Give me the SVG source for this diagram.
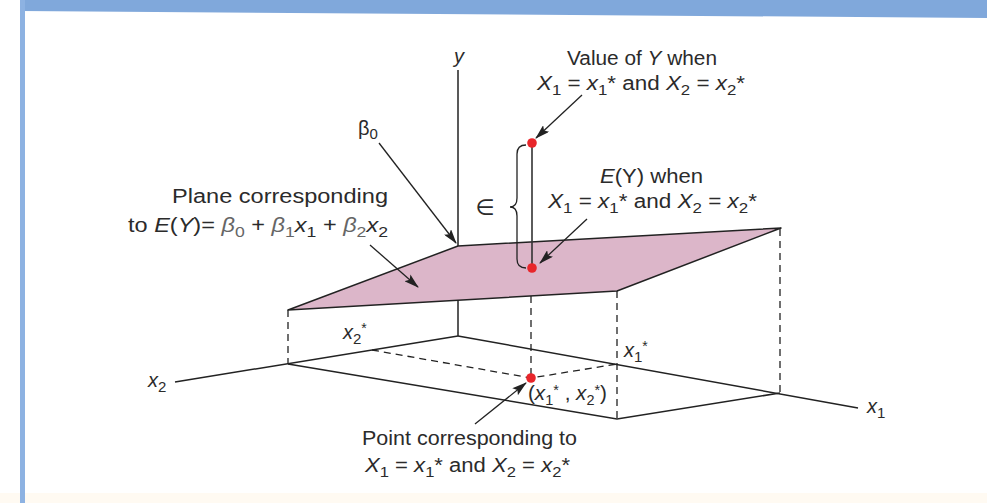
<svg xmlns="http://www.w3.org/2000/svg" width="987" height="503" viewBox="0 0 987 503">
<defs>
<style>
.t{font-family:"Liberation Sans",Arial,sans-serif;font-size:20px;fill:#2b2b2b}
.i{font-style:italic}
.ax{stroke:#222;stroke-width:1.5;fill:none}
.ds{stroke:#222;stroke-width:1.3;stroke-dasharray:7,5;fill:none}
.ar{stroke:#222;stroke-width:1.3;fill:none;marker-end:url(#ah)}
.dot{fill:#e8262b}
</style>
<marker id="ah" markerUnits="userSpaceOnUse" markerWidth="15" markerHeight="9" refX="14" refY="4.5" orient="auto">
<path d="M0,0 L15,4.5 L0,9 L3,4.5 z" fill="#222"/>
</marker>
</defs>
<rect width="987" height="503" fill="#fff"/>
<rect x="0" y="493" width="987" height="10" fill="#fffaf2"/>
<polygon points="20,0 987,0 987,18 20,11" fill="#80a8db"/>
<rect x="20" y="0" width="5" height="503" fill="#8db2e2"/>

<g id="axes">
<line class="ax" x1="458" y1="70" x2="458" y2="336"/>
<line class="ax" x1="175" y1="382" x2="458" y2="336"/>
<line class="ax" x1="458" y1="336" x2="858" y2="408"/>
</g>
<g id="floor">
<polyline class="ax" points="288,364 617,419 780,393"/>
<polyline class="ds" points="372,350 531,378 617,364"/>
<line class="ds" x1="288" y1="310" x2="288" y2="364"/>
<line class="ds" x1="531" y1="272" x2="531" y2="378"/>
<line class="ds" x1="617" y1="291" x2="617" y2="419"/>
<line class="ds" x1="780" y1="229" x2="780" y2="393"/>
</g>
<g id="plane">
<polygon points="288,310 458,246 781,228 617,291" fill="#dcb6c9" stroke="#222" stroke-width="1.5" stroke-linejoin="round"/>
</g>
<g id="epsilon">
<line x1="532" y1="143" x2="532" y2="268" stroke="#333" stroke-width="1.6"/>
<path d="M526,145 Q517,145 517,154 L517,198 Q517,207 510,207 Q517,207 517,216 L517,259 Q517,268 526,268" fill="none" stroke="#222" stroke-width="1.3"/>
<text x="485" y="215" text-anchor="middle" font-family="'DejaVu Sans',sans-serif" font-size="22" fill="#2b2b2b">∈</text>
</g>
<g id="points">
<circle class="dot" cx="532" cy="143" r="4.8"/>
<circle class="dot" cx="532" cy="268" r="4.8"/>
<circle class="dot" cx="531" cy="378" r="4.8"/>
</g>
<g id="connectors">
<line class="ar" x1="582" y1="95" x2="536" y2="138"/>
<line class="ar" x1="379" y1="143" x2="456" y2="243"/>
<line class="ar" x1="370" y1="245" x2="418" y2="287"/>
<line class="ar" x1="587" y1="219" x2="540" y2="263"/>
<line class="ar" x1="475" y1="424" x2="526" y2="383"/>
</g>
<g id="labels">
<text class="t i" x="459" y="63" text-anchor="middle">y</text>
<text class="t" x="567" y="65" textLength="150" lengthAdjust="spacingAndGlyphs">Value of <tspan class="i">Y</tspan> when</text>
<text class="t" x="537" y="90" textLength="208" lengthAdjust="spacingAndGlyphs"><tspan class="i">X</tspan><tspan font-size="15" dy="5">1</tspan><tspan dy="-5"> = </tspan><tspan class="i">x</tspan><tspan font-size="15" dy="5">1</tspan><tspan dy="-5">* and </tspan><tspan class="i">X</tspan><tspan font-size="15" dy="5">2</tspan><tspan dy="-5"> = </tspan><tspan class="i">x</tspan><tspan font-size="15" dy="5">2</tspan><tspan dy="-5">*</tspan></text>
<text class="t" x="358" y="135">β<tspan font-size="15" dy="4">0</tspan></text>
<text class="t" x="172" y="203" textLength="216" lengthAdjust="spacingAndGlyphs">Plane corresponding</text>
<text class="t" x="128" y="232" textLength="260" lengthAdjust="spacingAndGlyphs">to <tspan class="i">E</tspan>(<tspan class="i">Y</tspan>)= <tspan class="i" fill="#666">β</tspan><tspan font-size="15" dy="5" fill="#666">0</tspan><tspan dy="-5"> + </tspan><tspan class="i" fill="#666">β</tspan><tspan font-size="15" dy="5" fill="#666">1</tspan><tspan dy="-5" class="i">x</tspan><tspan font-size="15" dy="5">1</tspan><tspan dy="-5"> + </tspan><tspan class="i" fill="#666">β</tspan><tspan font-size="15" dy="5" fill="#666">2</tspan><tspan dy="-5" class="i">x</tspan><tspan font-size="15" dy="5">2</tspan></text>
<text class="t" x="600" y="183" textLength="103" lengthAdjust="spacingAndGlyphs"><tspan class="i">E</tspan>(Y) when</text>
<text class="t" x="548" y="208" textLength="209" lengthAdjust="spacingAndGlyphs"><tspan class="i">X</tspan><tspan font-size="15" dy="5">1</tspan><tspan dy="-5"> = </tspan><tspan class="i">x</tspan><tspan font-size="15" dy="5">1</tspan><tspan dy="-5">* and </tspan><tspan class="i">X</tspan><tspan font-size="15" dy="5">2</tspan><tspan dy="-5"> = </tspan><tspan class="i">x</tspan><tspan font-size="15" dy="5">2</tspan><tspan dy="-5">*</tspan></text>
<text class="t i" x="343" y="339" font-size="20">x<tspan font-size="15" dy="5" font-style="normal">2</tspan><tspan dy="-11" font-size="14" font-style="normal">*</tspan></text>
<text class="t i" x="148" y="387" font-size="20">x<tspan font-size="15" dy="5" font-style="normal">2</tspan></text>
<text class="t i" x="624" y="357" font-size="20">x<tspan font-size="15" dy="5" font-style="normal">1</tspan><tspan dy="-11" font-size="14" font-style="normal">*</tspan></text>
<text class="t" x="528" y="400" font-size="19" textLength="79" lengthAdjust="spacingAndGlyphs">(<tspan class="i">x</tspan><tspan font-size="14" dy="5">1</tspan><tspan dy="-10" font-size="14">*</tspan><tspan dy="5"> , </tspan><tspan class="i">x</tspan><tspan font-size="14" dy="5">2</tspan><tspan dy="-10" font-size="14">*</tspan><tspan dy="5">)</tspan></text>
<text class="t i" x="867" y="413" font-size="20">x<tspan font-size="15" dy="5" font-style="normal">1</tspan></text>
<text class="t" x="362" y="445" textLength="215" lengthAdjust="spacingAndGlyphs">Point corresponding to</text>
<text class="t" x="365" y="472" textLength="205" lengthAdjust="spacingAndGlyphs"><tspan class="i">X</tspan><tspan font-size="15" dy="5">1</tspan><tspan dy="-5"> = </tspan><tspan class="i">x</tspan><tspan font-size="15" dy="5">1</tspan><tspan dy="-5">* and </tspan><tspan class="i">X</tspan><tspan font-size="15" dy="5">2</tspan><tspan dy="-5"> = </tspan><tspan class="i">x</tspan><tspan font-size="15" dy="5">2</tspan><tspan dy="-5">*</tspan></text>
</g>
</svg>
